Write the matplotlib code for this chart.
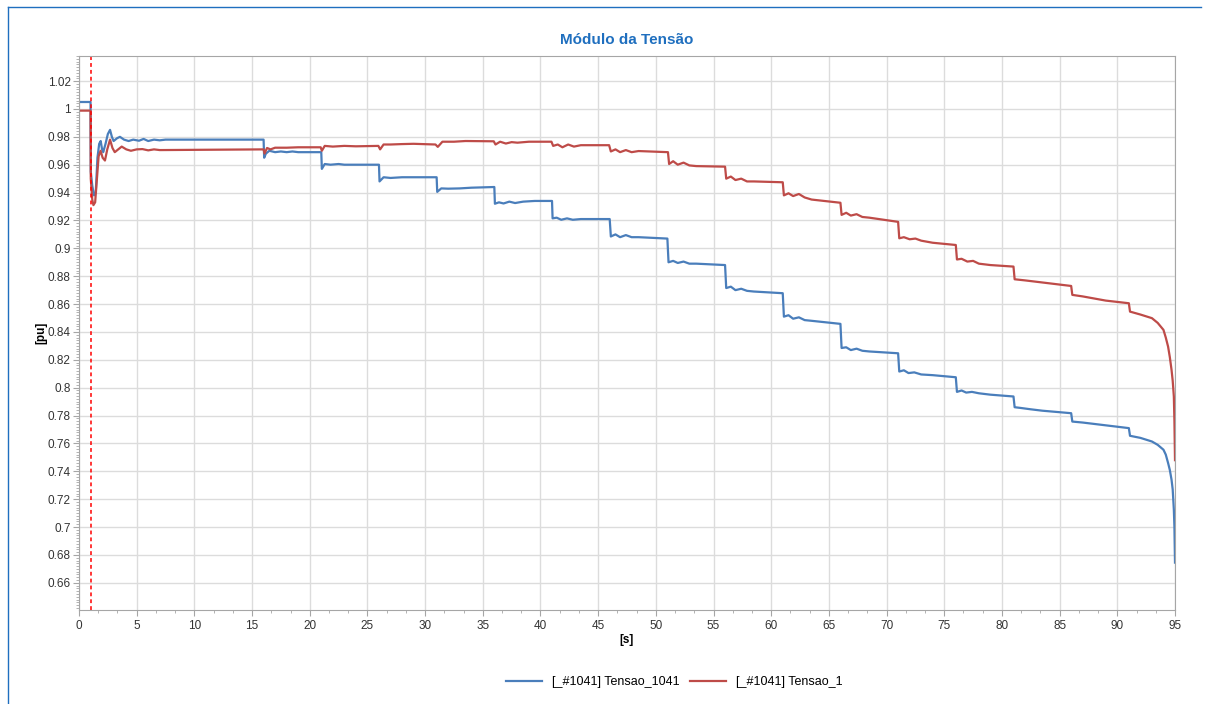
import matplotlib
matplotlib.use("Agg")
import matplotlib.pyplot as plt
from matplotlib.ticker import MultipleLocator, FuncFormatter
from matplotlib.lines import Line2D

plt.rcParams['font.family'] = ['Liberation Sans', 'DejaVu Sans']

# [_#1041] Tensao_1041 (blue)
t_1041 = [0, 1.0, 1.02, 1.15, 1.3, 1.45, 1.6, 1.75, 1.88, 2.0, 2.1, 2.3, 2.5, 2.69, 2.85,
          3.0, 3.3, 3.55, 3.9, 4.3, 4.7, 5.2, 5.6, 6.0, 6.5, 7.0, 7.5, 15.98,
          16.0, 16.05, 16.2, 16.5, 17.0, 17.5, 18.0, 18.5, 19.0, 20.95,
          21.0, 21.05, 21.3, 21.8, 22.5, 23.0, 24.0, 25.95,
          26.0, 26.05, 26.4, 27.0, 28.0, 29.0, 30.95,
          31.0, 31.05, 31.4, 32.0, 33.0, 34.0, 35.95,
          36.0, 36.05, 36.4, 36.8, 37.3, 37.8, 38.5, 39.5, 40.95,
          41.0, 41.05, 41.4, 41.8, 42.3, 42.8, 43.5, 45.95,
          46.0, 46.1, 46.5, 46.9, 47.4, 47.9, 48.5, 50.95,
          51.0, 51.1, 51.5, 51.9, 52.4, 52.9, 53.5, 55.95,
          56.0, 56.1, 56.5, 56.9, 57.4, 57.9, 58.5, 60.95,
          61.0, 61.1, 61.5, 61.9, 62.4, 62.9, 63.5, 65.95,
          66.0, 66.1, 66.5, 66.9, 67.4, 67.9, 68.5, 70.95,
          71.0, 71.1, 71.5, 71.9, 72.4, 73.0, 74.0, 75.95,
          76.0, 76.1, 76.5, 76.9, 77.4, 78.0, 79.0, 80.95,
          81.0, 81.1, 81.6, 82.5, 83.5, 85.95,
          86.0, 86.1, 87.0, 88.0, 89.0, 90.95,
          91.0, 91.1, 92.0, 93.0, 93.5, 94.0, 94.2, 94.4, 94.55, 94.7, 94.8, 94.9, 94.95, 95.0]
v_1041 = [1.005, 1.005, 0.955, 0.945, 0.938, 0.940, 0.965, 0.975, 0.977, 0.971, 0.969, 0.975, 0.982, 0.985, 0.980,
          0.977, 0.979, 0.980, 0.978, 0.977, 0.978, 0.9772, 0.9785, 0.977, 0.978, 0.9775, 0.978, 0.978,
          0.978, 0.965, 0.968, 0.970, 0.969, 0.9695, 0.969, 0.9695, 0.969, 0.969,
          0.969, 0.957, 0.9605, 0.960, 0.9605, 0.960, 0.960, 0.960,
          0.960, 0.948, 0.951, 0.9505, 0.951, 0.951, 0.951,
          0.951, 0.9405, 0.943, 0.9428, 0.943, 0.9435, 0.944,
          0.944, 0.932, 0.933, 0.9322, 0.9335, 0.9325, 0.9335, 0.934, 0.934,
          0.934, 0.9215, 0.922, 0.9205, 0.9215, 0.9205, 0.921, 0.921,
          0.921, 0.9085, 0.910, 0.908, 0.9095, 0.908, 0.908, 0.907,
          0.907, 0.890, 0.891, 0.8895, 0.8905, 0.889, 0.889, 0.888,
          0.888, 0.8715, 0.8725, 0.870, 0.871, 0.8695, 0.869, 0.8678,
          0.8678, 0.851, 0.852, 0.8495, 0.8505, 0.8485, 0.848, 0.8458,
          0.8458, 0.8285, 0.829, 0.827, 0.828, 0.8265, 0.826, 0.8247,
          0.8247, 0.8116, 0.8125, 0.8105, 0.811, 0.8095, 0.809, 0.8075,
          0.8075, 0.797, 0.798, 0.7965, 0.797, 0.796, 0.795, 0.7937,
          0.7937, 0.786, 0.7855, 0.7845, 0.7835, 0.7817,
          0.7817, 0.7757, 0.775, 0.774, 0.773, 0.771,
          0.771, 0.7655, 0.764, 0.7614, 0.759, 0.7555, 0.752, 0.746, 0.741, 0.734, 0.727, 0.7125, 0.700, 0.6745]

# [_#1041] Tensao_1 (red)
t_1 = [0, 1.0, 1.02, 1.15, 1.25, 1.4, 1.55, 1.7, 1.87, 2.05, 2.25, 2.45, 2.69, 2.9,
       3.1, 3.4, 3.7, 4.1, 4.5, 5.0, 5.5, 6.0, 6.5, 7.0, 15.98,
       16.0, 16.08, 16.3, 16.6, 17.0, 18.0, 19.0, 20.95,
       21.05, 21.3, 22.0, 23.0, 24.0, 25.95,
       26.1, 26.4, 27.0, 28.0, 29.0, 30.9,
       31.1, 31.5, 32.5, 33.5, 35.95,
       36.1, 36.5, 37.0, 37.5, 38.0, 39.0, 40.95,
       41.1, 41.5, 41.9, 42.4, 42.9, 43.5, 45.95,
       46.1, 46.5, 46.9, 47.4, 47.9, 48.5, 50.95,
       51.05, 51.15, 51.5, 51.9, 52.4, 52.9, 53.5, 55.95,
       56.0, 56.1, 56.5, 56.9, 57.4, 57.9, 58.5, 60.95,
       61.0, 61.1, 61.5, 61.9, 62.4, 62.9, 63.5, 65.95,
       66.0, 66.1, 66.5, 66.9, 67.4, 67.9, 68.5, 70.95,
       71.0, 71.1, 71.5, 72.0, 72.5, 73.0, 74.0, 75.95,
       76.0, 76.1, 76.5, 77.0, 77.5, 78.0, 79.0, 80.95,
       81.0, 81.1, 82.0, 83.0, 84.0, 85.95,
       86.0, 86.1, 87.0, 88.0, 89.0, 90.95,
       91.0, 91.1, 92.0, 93.0, 93.5, 94.0, 94.2, 94.4, 94.55, 94.7, 94.8, 94.9, 94.95, 95.0]
v_1 = [0.9988, 0.9988, 0.950, 0.935, 0.931, 0.933, 0.950, 0.966, 0.970, 0.965, 0.963, 0.971, 0.978, 0.972,
       0.969, 0.971, 0.973, 0.971, 0.970, 0.971, 0.9712, 0.9703, 0.971, 0.9705, 0.971,
       0.971, 0.968, 0.972, 0.971, 0.9722, 0.9722, 0.9725, 0.9725,
       0.970, 0.9735, 0.973, 0.9735, 0.9732, 0.9735,
       0.971, 0.9745, 0.9745, 0.9748, 0.975, 0.9745,
       0.9728, 0.9765, 0.9765, 0.977, 0.9768,
       0.9745, 0.9765, 0.9752, 0.9762, 0.9758, 0.9765, 0.9765,
       0.9735, 0.9745, 0.9725, 0.9745, 0.973, 0.974, 0.974,
       0.9695, 0.971, 0.969, 0.9705, 0.969, 0.9698, 0.969,
       0.969, 0.9605, 0.9625, 0.960, 0.9615, 0.9595, 0.959, 0.9586,
       0.9586, 0.950, 0.9515, 0.949, 0.950, 0.948, 0.948, 0.9474,
       0.9474, 0.938, 0.9395, 0.9375, 0.939, 0.9365, 0.935, 0.9327,
       0.9327, 0.924, 0.9255, 0.9235, 0.9245, 0.9225, 0.922, 0.919,
       0.919, 0.9072, 0.908, 0.9065, 0.907, 0.9055, 0.904, 0.9024,
       0.9024, 0.892, 0.8925, 0.8905, 0.891, 0.889, 0.888, 0.8869,
       0.8869, 0.8778, 0.877, 0.876, 0.875, 0.873,
       0.873, 0.8666, 0.8655, 0.864, 0.8625, 0.8606,
       0.8606, 0.8546, 0.8525, 0.8499, 0.8465, 0.8415, 0.836, 0.8295, 0.822, 0.8128, 0.805, 0.7937, 0.776, 0.748]

event_time = 1.0

fig = plt.figure(figsize=(12.09, 7.04), dpi=100)
ax = fig.add_axes([79/1209, 1 - 610/704, (1175 - 79)/1209, (610 - 56)/704])

ax.plot(t_1041, v_1041, color='#4A7EBB', lw=1.6, label='[_#1041] Tensao_1041')
ax.plot(t_1, v_1, color='#BE4B48', lw=1.6, label='[_#1041] Tensao_1')
ax.axvline(event_time, color='#FF0000', lw=1.1, ls=(0, (2.5, 2.0)))

ax.set_xlim(0, 95)
ax.set_ylim(0.6405, 1.038)
ax.xaxis.set_major_locator(MultipleLocator(5))
ax.xaxis.set_minor_locator(MultipleLocator(5/3))
ax.yaxis.set_major_locator(MultipleLocator(0.02))
ax.yaxis.set_minor_locator(MultipleLocator(0.002))
ax.yaxis.set_major_formatter(FuncFormatter(lambda v, p: f'{v:g}'))
ax.grid(True, which='major', color='#DCDCDC', lw=1.0)
ax.set_axisbelow(True)
for s in ax.spines.values():
    s.set_color('#A6A6A6')
ax.tick_params(which='major', length=4, color='#A6A6A6', labelsize=8.5, labelcolor='#333333')
ax.tick_params(which='minor', length=2, color='#A6A6A6')
ax.tick_params(axis='y', which='major', pad=2)

ax.set_xlabel('[s]', fontsize=8.5, fontweight='bold', labelpad=1)
ax.set_ylabel('[pu]', fontsize=8.5, fontweight='bold', labelpad=0)
ax.set_title('Módulo da Tensão', fontsize=11, fontweight='bold', color='#1F6FBF', pad=9)

fig.legend(handles=[Line2D([], [], color='#4A7EBB', lw=1.6), Line2D([], [], color='#BE4B48', lw=1.6)],
           labels=['[_#1041] Tensao_1041', '[_#1041] Tensao_1'],
           loc='center', bbox_to_anchor=(0.558, 1 - 682/704), ncol=2, frameon=False,
           fontsize=9, handlelength=2.9, columnspacing=0.8, handletextpad=0.8)

# window frame lines (left and top)
fig.add_artist(Line2D([7.5/1209, 7.5/1209], [0, 1 - 6.5/704], color='#1F6FBF', lw=1.0))
fig.add_artist(Line2D([7.5/1209, 1201/1209], [1 - 6.5/704, 1 - 6.5/704], color='#1F6FBF', lw=1.0))

fig.savefig('out.png', dpi=100)
